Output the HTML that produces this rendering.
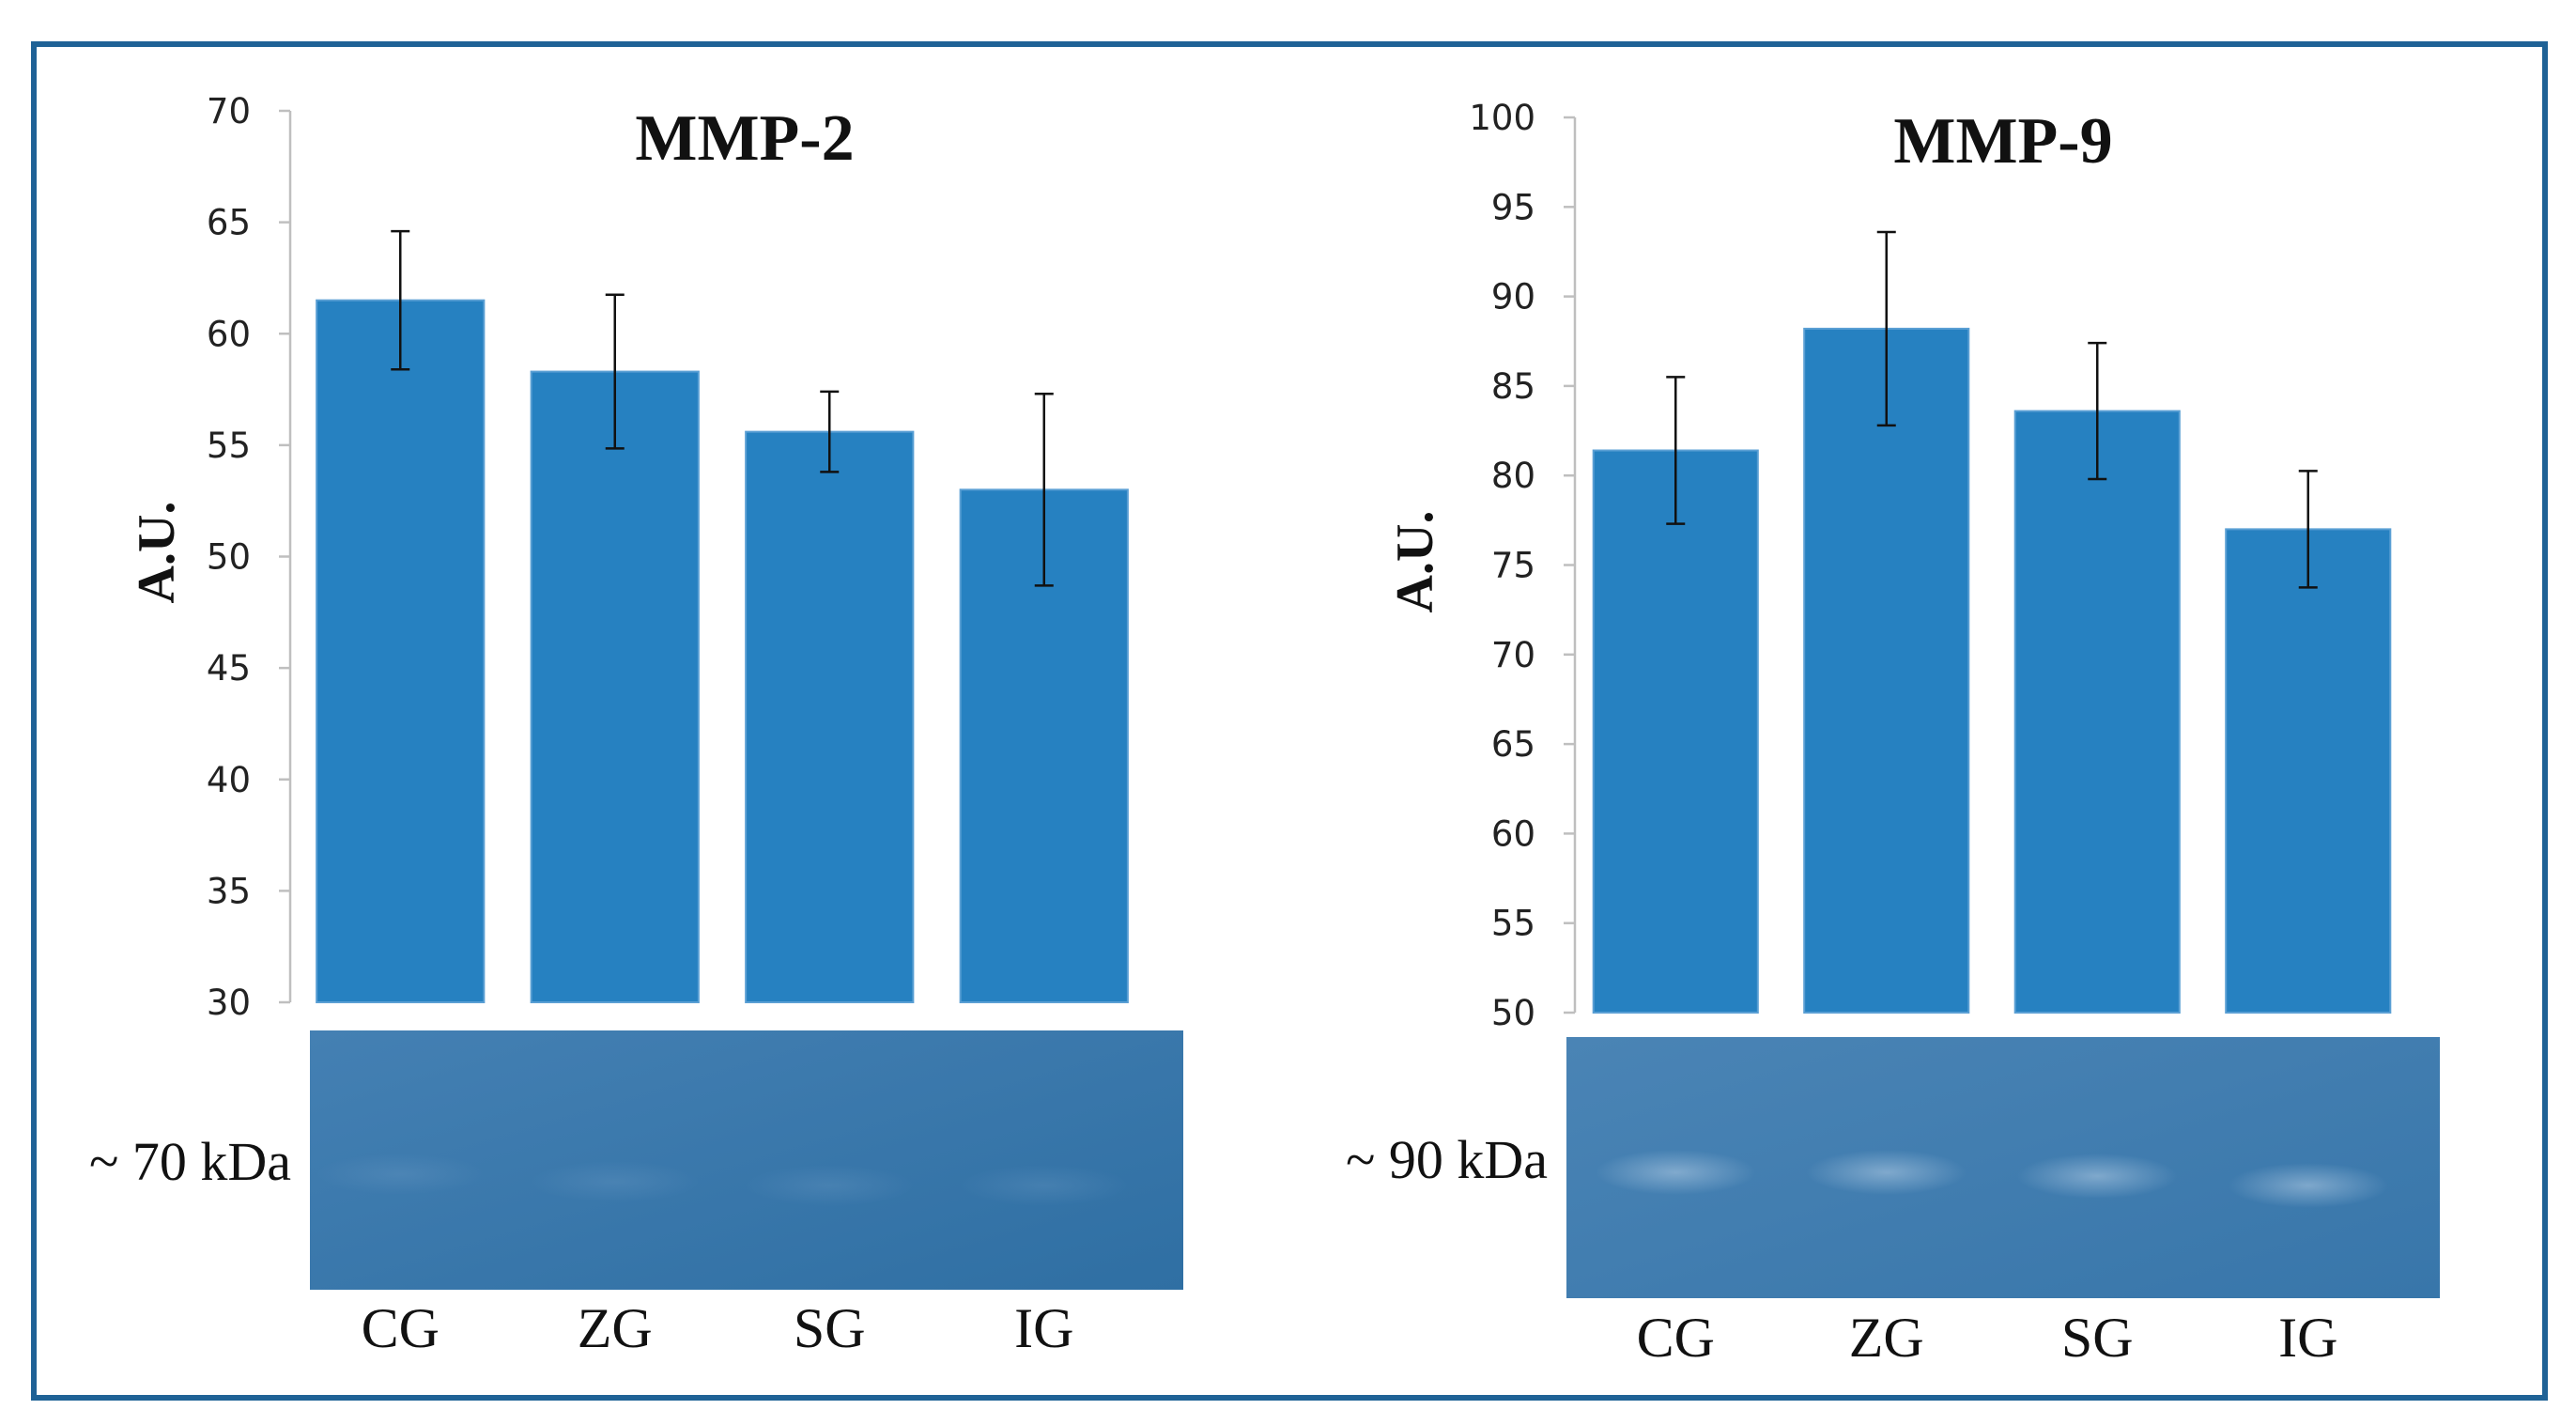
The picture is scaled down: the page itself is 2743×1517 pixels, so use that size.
<!DOCTYPE html>
<html><head><meta charset="utf-8"><style>
html,body{margin:0;padding:0;background:#fff;}
svg{display:block;}
</style></head><body>
<svg id="fig" width="2743" height="1517" xmlns="http://www.w3.org/2000/svg">
<defs>
<radialGradient id="band" cx="50%" cy="50%" r="50%"><stop offset="0%" stop-color="#a9c6e0" stop-opacity="0.6"/><stop offset="100%" stop-color="#a9c6e0" stop-opacity="0"/></radialGradient>
<radialGradient id="bandw" cx="50%" cy="50%" r="50%"><stop offset="0%" stop-color="#8fb3d6" stop-opacity="0.18"/><stop offset="100%" stop-color="#8fb3d6" stop-opacity="0"/></radialGradient>
</defs>
<rect x="36" y="47" width="2674" height="1441" fill="none" stroke="#1f6296" stroke-width="6"/>
<g id="c1"></g>
<g id="c2"></g>
</svg>
<script>
const categories = ["CG","ZG","SG","IG"];
const mmp2Values = [61.5, 58.3, 55.6, 53.0];
const mmp2Errors = [3.1, 3.45, 1.8, 4.3];
const mmp2Ticks = [30,35,40,45,50,55,60,65,70];
const mmp9Values = [81.4, 88.2, 83.6, 77.0];
const mmp9Errors = [4.1, 5.4, 3.8, 3.25];
const mmp9Ticks = [50,55,60,65,70,75,80,85,90,95,100];

const NS="http://www.w3.org/2000/svg";
function mk(parent,tag,attrs,text){const e=document.createElementNS(NS,tag);for(const k in attrs)e.setAttribute(k,attrs[k]);if(text!==undefined)e.textContent=text;parent.appendChild(e);return e;}

function draw(g, cfg){
  const y=v=>cfg.yBot-(v-cfg.min)/(cfg.max-cfg.min)*(cfg.yBot-cfg.yTop);
  let ax=mk(g,'line',{x1:cfg.axX,y1:cfg.yTop,x2:cfg.axX,y2:cfg.yBot,stroke:'#bfbfbf','stroke-width':2.5});
  
  
  cfg.ticks.forEach(t=>{
    let tl=mk(g,'line',{x1:cfg.axX-12,y1:y(t),x2:cfg.axX,y2:y(t),stroke:'#bfbfbf','stroke-width':2.5});
    
    
    let tx=mk(g,'text',{x:cfg.axX-42,y:y(t)+13,'text-anchor':'end','font-family':'DejaVu Sans, sans-serif','font-size':37,fill:'#222'},String(t));
    
    
  });
  const step=(cfg.plotR-cfg.plotL)/categories.length;
  const bw=step*0.78;
  categories.forEach((c,i)=>{
    const cx=cfg.plotL+step*(i+0.5);
    const v=cfg.values[i], e=cfg.errors[i];
    let b=mk(g,'rect',{x:cx-bw/2,y:y(v),width:bw,height:cfg.yBot-y(v),fill:'#2681c1',stroke:'#5a9fd4','stroke-width':2});
    
    
    let el=mk(g,'path',{d:`M${cx},${y(v+e)}V${y(v-e)}M${cx-10},${y(v+e)}H${cx+10}M${cx-10},${y(v-e)}H${cx+10}`,stroke:'#111','stroke-width':2.5,fill:'none'});
    
    
    let bd=mk(g,'ellipse',{cx:cx,cy:cfg.bandY[i],rx:cfg.bandRx,ry:cfg.bandRy,fill:cfg.strong?'url(#band)':'url(#bandw)'});
    
    
    let lb=mk(g,'text',{x:cx,y:cfg.labY,'text-anchor':'middle','font-family':'Liberation Serif, serif','font-size':60,fill:'#111'},c);
    
    
  });
  let t=mk(g,'text',{x:cfg.titleX,y:cfg.titleY,'text-anchor':'middle','font-family':'Liberation Serif, serif','font-size':70,'font-weight':'bold',fill:'#111'},cfg.title);
  
  
  let a=mk(g,'text',{x:0,y:0,'text-anchor':'middle','font-family':'Liberation Serif, serif','font-size':56,'font-weight':'bold',fill:'#111',transform:`translate(${cfg.auX},${cfg.auY}) rotate(-90)`},'A.U.');
  
  
  let k=mk(g,'text',{x:cfg.gelL-20,y:cfg.kdaY,'text-anchor':'end','font-family':'Liberation Serif, serif','font-size':58,fill:'#111'},cfg.kda);
  
  
}

function gel(g,x,y,w,h,name,c1,c2){
  const gr=mk(document.querySelector('defs'),'linearGradient',{id:name+'g',x1:0,y1:0,x2:1,y2:1});
  mk(gr,'stop',{offset:'0%','stop-color':c1});mk(gr,'stop',{offset:'100%','stop-color':c2});
  let r=mk(g,'rect',{x:x,y:y,width:w,height:h,fill:`url(#${name}g)`});
  
  
}

const g1=document.getElementById('c1'), g2=document.getElementById('c2');
gel(g1,330,1097,930,276,'gel-image-mmp2','#4480b3','#2f6fa3');
gel(g2,1668,1104,930,278,'gel-image-mmp9','#4a84b5','#3876aa');
draw(g1,{min:30,max:70,yTop:118,yBot:1067,axX:309,plotL:312,plotR:1226,values:mmp2Values,errors:mmp2Errors,ticks:mmp2Ticks,
  gelL:330,gelR:1260,bandY:[1250,1258,1262,1262],bandRx:90,bandRy:22,strong:false,labY:1434,
  title:'MMP-2',titleX:793,titleY:170,auX:185,auY:588,kda:'~ 70 kDa',kdaY:1256});
draw(g2,{min:50,max:100,yTop:125,yBot:1078,axX:1677,plotL:1672,plotR:2570,values:mmp9Values,errors:mmp9Errors,ticks:mmp9Ticks,
  gelL:1668,gelR:2598,bandY:[1248,1248,1252,1262],bandRx:85,bandRy:24,strong:true,labY:1444,
  title:'MMP-9',titleX:2133,titleY:173,auX:1525,auY:598,kda:'~ 90 kDa',kdaY:1254});
</script>
</body></html>
